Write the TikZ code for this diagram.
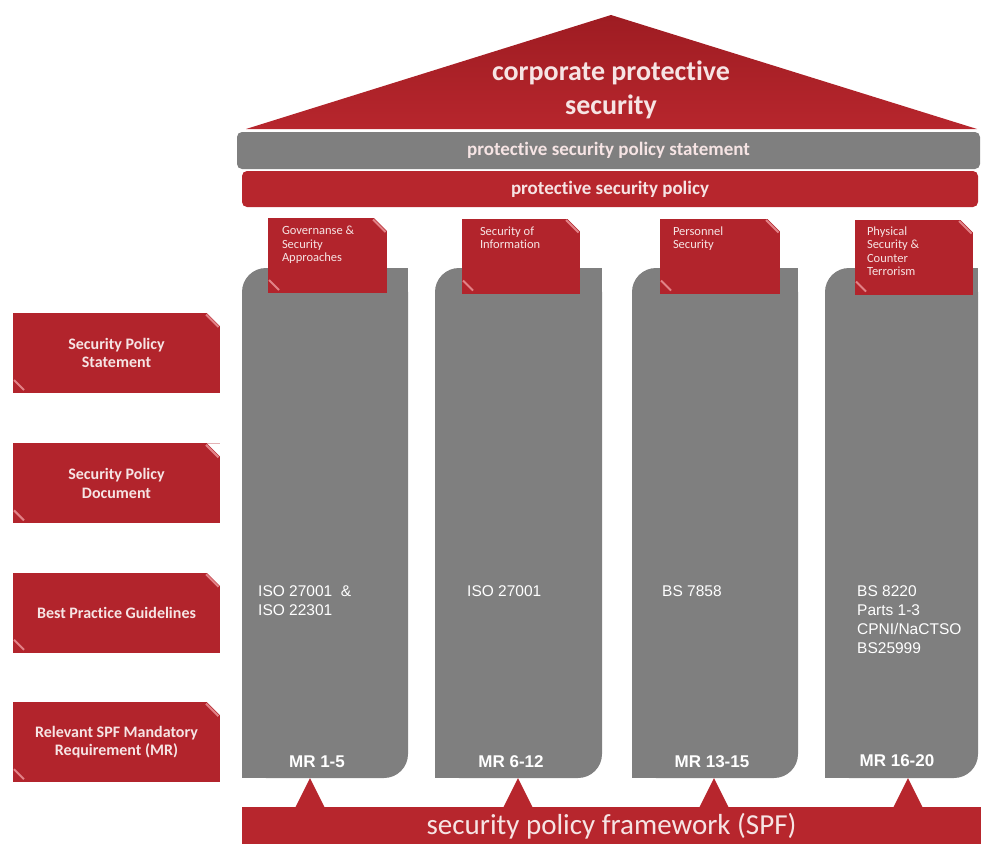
\documentclass[tikz,border=0pt]{standalone}
\usepackage{fontspec}
\setmainfont[Ligatures=NoCommon]{Carlito}
\newfontfamily\arialfont{Liberation Sans}
\usepackage{tikz}
\usetikzlibrary{calc,positioning}

\definecolor{spfred}{RGB}{183,38,45}
\definecolor{roofdark}{RGB}{158,28,34}
\definecolor{spfgray}{RGB}{127,127,127}
\definecolor{notered}{RGB}{178,36,44}
\definecolor{foldpink}{RGB}{226,130,135}
\definecolor{paletext}{RGB}{246,228,228}

\begin{document}
\begin{tikzpicture}[x=1pt, y=-1pt,
  bar/.style={rectangle, rounded corners=5pt, inner sep=0pt, text=paletext, font=\bfseries\fontsize{19}{23}\selectfont},
  pillar/.style={rectangle, fill=spfgray, rounded corners=24pt, minimum height=510pt, inner sep=0pt},
  note/.style={rectangle, fill=notered, inner sep=0pt, text=paletext, path picture={
      \fill[white] (path picture bounding box.north east) -- ++(-13pt,0pt) -- ++(13pt,-13pt) -- cycle;
      \draw[foldpink, line width=2pt] ($(path picture bounding box.north east)+(-14pt,-1.5pt)$) -- ++(12.5pt,-12.5pt);
      \draw[foldpink, line width=2pt] ($(path picture bounding box.south west)+(1pt,13pt)$) -- ++(10pt,-10pt);
    }},
  tagbox/.style={note, minimum width=119pt, minimum height=75pt},
  tagtext/.style={inner sep=0pt, align=left, text=paletext, font=\fontsize{12.5}{13.5}\selectfont},
  sidebox/.style={note, minimum width=207pt, minimum height=80pt, align=center, font=\bfseries\fontsize{16}{18.5}\selectfont},
  std/.style={inner sep=0pt, align=left, text=white, font=\arialfont\fontsize{15.5}{19}\selectfont},
  mr/.style={inner sep=0pt, text=white, font=\arialfont\bfseries\fontsize{17}{20}\selectfont}]

  \useasboundingbox (0,0) rectangle (981,843);

  % roof
  \coordinate (apex) at (611,15);
  \coordinate (eaveL) at (246,129);
  \coordinate (eaveR) at (977,129);
  \shade[top color=roofdark, bottom color=spfred] (eaveL) -- (apex) -- (eaveR) -- cycle;
  \node[align=center, text=paletext, font=\bfseries\fontsize{28}{34}\selectfont] (title) at (611,90) {corporate protective\\security};

  \node[bar, fill=spfgray, minimum width=743pt, minimum height=37pt] (stmt) at (608.5,150.5) {protective security policy statement};
  \node[bar, fill=spfred, minimum width=736pt, minimum height=36pt] (pol) at (610,189) {protective security policy};

  % pillars
  \node[pillar, minimum width=166pt] (c1) at (325,523) {};
  \node[pillar, minimum width=167pt] (c2) at (518.5,523) {};
  \node[pillar, minimum width=166pt] (c3) at (715,523) {};
  \node[pillar, minimum width=153pt] (c4) at (901.5,523) {};
  \foreach \c in {c1,c2,c3,c4} {
    \fill[spfgray] (\c.north east) rectangle ++(-26,26);
    \fill[spfgray] (\c.south west) rectangle ++(26,-26);
  }

  \node[tagbox] (t1) at (327.5,255.5) {};
  \node[tagbox, minimum width=118pt] (t2) at (521,256) {};
  \node[tagbox, minimum width=120pt] (t3) at (720,256) {};
  \node[tagbox, minimum width=118pt] (t4) at (914,257) {};
  \node[tagtext, below right=8pt and 14pt of t1.north west] (t1txt) {Governanse \&\\Security\\Approaches};
  \node[tagtext, below right=8pt and 18pt of t2.north west] (t2txt) {Security of\\Information};
  \node[tagtext, below right=8pt and 13pt of t3.north west] (t3txt) {Personnel\\Security};
  \node[tagtext, below right=7pt and 12pt of t4.north west] (t4txt) {Physical\\Security \&\\Counter\\Terrorism};

  \node[std, anchor=north west] (n1) at (258,585) {ISO 27001~ \&\\ISO 22301};
  \node[std, anchor=north west] (n2) at (467,585) {ISO 27001};
  \node[std, anchor=north west] (n3) at (662,585) {BS 7858};
  \node[std, anchor=north west] (n4) at (857,585) {BS 8220\\Parts 1-3\\CPNI/NaCTSO\\BS25999};

  \node[mr] (m1) at (317,762) {MR 1-5};
  \node[mr] (m2) at (511,762) {MR 6-12};
  \node[mr] (m3) at (712,762) {MR 13-15};
  \node[mr] (m4) at (897,761) {MR 16-20};

  % base
  \node[fill=spfred, minimum width=739pt, minimum height=38pt, inner sep=0pt, text=paletext,
    font=\fontsize{29}{34}\selectfont] (spf) at (611.5,826) {security policy framework (SPF)};
  \foreach \c/\x in {c1/310,c2/518,c3/714,c4/908}
    \fill[spfred] (\x,0 |- \c.south) -- ++(15,30) -- ++(-30,0) -- cycle;

  % left hand side
  \node[sidebox] (s1) at (116.5,353) {Security Policy\\Statement};
  \node[sidebox, below=50pt of s1] (s2) {Security Policy\\Document};
  \node[sidebox, below=49pt of s2] (s3) {Best Practice Guidelines};
  \node[sidebox, below=49pt of s3] (s4) {Relevant SPF Mandatory\\Requirement (MR)};
\end{tikzpicture}
\end{document}
